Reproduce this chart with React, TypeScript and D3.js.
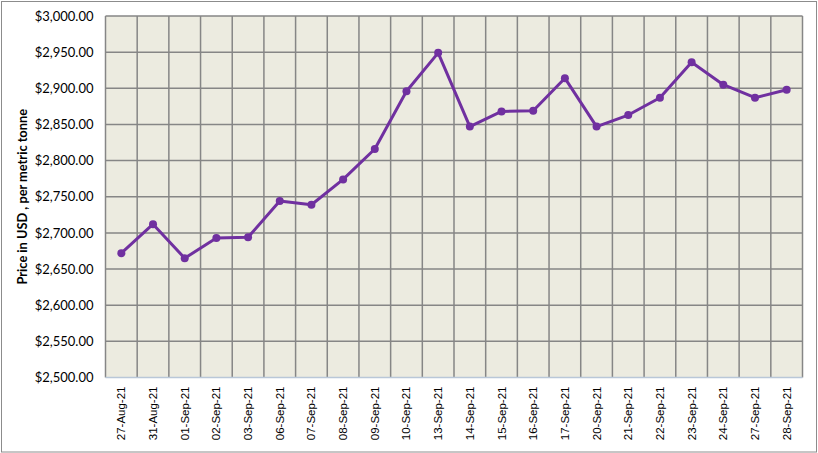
import { useEffect, useRef } from "react";
import * as d3 from "d3";

const dates = [
  "27-Aug-21", "31-Aug-21", "01-Sep-21", "02-Sep-21", "03-Sep-21", "06-Sep-21",
  "07-Sep-21", "08-Sep-21", "09-Sep-21", "10-Sep-21", "13-Sep-21", "14-Sep-21",
  "15-Sep-21", "16-Sep-21", "17-Sep-21", "20-Sep-21", "21-Sep-21", "22-Sep-21",
  "23-Sep-21", "24-Sep-21", "27-Sep-21", "28-Sep-21",
];
const prices = [
  2672, 2712, 2665, 2693, 2694, 2744, 2739, 2774, 2816, 2896, 2949, 2847,
  2868, 2869, 2914, 2847, 2863, 2887, 2936, 2905, 2887, 2898,
];
const yTicks = [2500, 2550, 2600, 2650, 2700, 2750, 2800, 2850, 2900, 2950, 3000];

const W = 818;
const H = 453;
const M = { top: 16, right: 15.5, bottom: 75.5, left: 105.5 };

export default function App() {
  const svgRef = useRef<SVGSVGElement>(null);

  useEffect(() => {
    const svg = d3.select(svgRef.current);
    svg.selectAll("*").remove();

    const x = d3.scaleBand<string>().domain(dates).range([M.left, W - M.right]);
    const y = d3.scaleLinear().domain([2500, 3000]).range([H - M.bottom, M.top]);

    // outer chart border
    svg.append("rect")
      .attr("x", 1.5).attr("y", 1.5)
      .attr("width", W - 3).attr("height", H - 2.5)
      .attr("fill", "#fff").attr("stroke", "#8c8c8c").attr("stroke-width", 1);

    // plot area
    svg.append("rect")
      .attr("x", M.left).attr("y", M.top)
      .attr("width", W - M.left - M.right).attr("height", H - M.top - M.bottom)
      .attr("fill", "#ecebe0");

    const grid = svg.append("g").attr("stroke", "#868686").attr("stroke-width", 1.5);
    grid.selectAll("line.h")
      .data(yTicks.slice(1))
      .enter().append("line")
      .attr("x1", M.left).attr("x2", W - M.right)
      .attr("y1", (d) => y(d)).attr("y2", (d) => y(d));
    const bounds = dates.map((d) => x(d)!).concat([W - M.right]);
    grid.selectAll("line.v")
      .data(bounds)
      .enter().append("line")
      .attr("x1", (d) => d).attr("x2", (d) => d)
      .attr("y1", M.top).attr("y2", H - M.bottom);

    // category axis line
    svg.append("line")
      .attr("x1", M.left).attr("x2", W - M.right)
      .attr("y1", y(2500)).attr("y2", y(2500))
      .attr("stroke", "#b9c7d8").attr("stroke-width", 1.5);

    // y tick labels
    svg.append("g").selectAll("text")
      .data(yTicks)
      .enter().append("text")
      .attr("x", M.left - 12)
      .attr("y", (d) => y(d))
      .attr("dy", "0.36em")
      .attr("text-anchor", "end")
      .attr("font-family", "Lato, 'Open Sans', sans-serif")
      .attr("font-size", 13)
      .attr("fill", "#000")
      .text((d) => "$" + d3.format(",.2f")(d));

    // x tick labels
    svg.append("g").selectAll("text")
      .data(dates)
      .enter().append("text")
      .attr("transform", (d) => `translate(${x(d)! + x.bandwidth() / 2 + 4},${H - M.bottom + 9}) rotate(-90)`)
      .attr("text-anchor", "end")
      .attr("font-family", "'Liberation Sans', Arial, sans-serif")
      .attr("font-size", 11.5)
      .attr("fill", "#000")
      .text((d) => d);

    // y title
    svg.append("text")
      .attr("transform", `translate(27,${(M.top + H - M.bottom) / 2}) rotate(-90)`)
      .attr("text-anchor", "middle")
      .attr("font-family", "Lato, 'Open Sans', sans-serif")
      .attr("font-weight", "bold")
      .attr("font-size", 12.8)
      .attr("fill", "#000")
      .text("Price in USD , per metric tonne");

    const cx = (i: number) => x(dates[i])! + x.bandwidth() / 2;
    const line = d3.line<number>().x((_, i) => cx(i)).y((d) => y(d));
    svg.append("path")
      .datum(prices)
      .attr("d", line)
      .attr("fill", "none")
      .attr("stroke", "#7030a0")
      .attr("stroke-width", 3)
      .attr("stroke-linejoin", "round");

    svg.append("g").selectAll("circle")
      .data(prices)
      .enter().append("circle")
      .attr("cx", (_, i) => cx(i))
      .attr("cy", (d) => y(d))
      .attr("r", 4)
      .attr("fill", "#7030a0");
  }, []);

  return (
    <div style={{ position: "absolute", left: 0, top: 0 }}>
      <svg ref={svgRef} width={W} height={H} style={{ display: "block" }} />
    </div>
  );
}
